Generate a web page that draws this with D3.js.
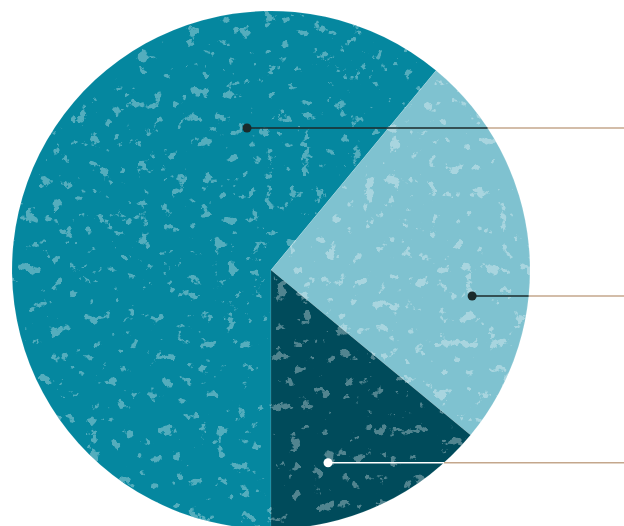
<!DOCTYPE html>
<html>
<head>
<meta charset="utf-8">
<script src="https://cdn.jsdelivr.net/npm/d3@7/dist/d3.min.js"></script>
<style>
  html, body { margin: 0; padding: 0; background: #ffffff; }
  svg { display: block; }
</style>
</head>
<body>
<svg id="chart" width="624" height="526"></svg>
<script>
// Shares of the whole, drawn clockwise starting at six o'clock
const categories = ["A", "B", "C"];
const values = [61, 25, 14];
const colors = ["#05879f", "#7fc2d0", "#004b5b"];
const dotColors = ["#1b2a2b", "#1b2a2b", "#ffffff"];

const width = 624, height = 526;
const cx = 271, cy = 270, radius = 259;

const svg = d3.select("#chart");
const defs = svg.append("defs");

// Grainy light speckle texture
const filter = defs.append("filter")
  .attr("id", "speckle")
  .attr("filterUnits", "userSpaceOnUse")
  .attr("x", 0).attr("y", 0).attr("width", width).attr("height", height);
filter.append("feTurbulence")
  .attr("type", "fractalNoise")
  .attr("baseFrequency", 0.08)
  .attr("numOctaves", 5)
  .attr("seed", 11)
  .attr("result", "noise");
filter.append("feColorMatrix")
  .attr("in", "noise")
  .attr("type", "matrix")
  .attr("values", "0 0 0 0 1  0 0 0 0 1  0 0 0 0 1  20 0 0 0 -13.1")
  .attr("result", "spots");
const ct = filter.append("feComponentTransfer").attr("in", "spots");
ct.append("feFuncA").attr("type", "linear").attr("slope", 0.32).attr("intercept", 0);

defs.append("clipPath").attr("id", "disc")
  .append("circle").attr("cx", cx).attr("cy", cy).attr("r", radius);

const pie = d3.pie()
  .sort(null)
  .startAngle(Math.PI)
  .endAngle(3 * Math.PI)
  .value(d => d);
const arcs = pie(values);

const arc = d3.arc().innerRadius(0).outerRadius(radius);

const g = svg.append("g").attr("transform", `translate(${cx},${cy})`);
g.selectAll("path.slice")
  .data(arcs)
  .join("path")
  .attr("class", "slice")
  .attr("d", arc)
  .attr("fill", (d, i) => colors[i])
  .attr("stroke", "rgba(255,255,255,0.12)")
  .attr("stroke-width", 0.8);

svg.append("g")
  .attr("clip-path", "url(#disc)")
  .append("rect")
  .attr("x", 0).attr("y", 0)
  .attr("width", width).attr("height", height)
  .attr("fill", "#fff")
  .attr("filter", "url(#speckle)");

// Callout anchors: position inside each slice (fraction of its sweep, fraction of radius)
const anchorSweep = [0.776, 0.642, 0.673];
const anchorDepth = [0.556, 0.783, 0.776];

const anchors = arcs.map((d, i) => {
  const a = d.startAngle + anchorSweep[i] * (d.endAngle - d.startAngle);
  const r = anchorDepth[i] * radius;
  return { x: cx + r * Math.sin(a), y: cy - r * Math.cos(a), i };
});

const leaders = svg.append("g");
anchors.forEach(p => {
  const dy = p.y - cy;
  const edgeX = cx + Math.sqrt(Math.max(0, radius * radius - dy * dy));
  leaders.append("line")
    .attr("x1", edgeX).attr("x2", width)
    .attr("y1", p.y).attr("y2", p.y)
    .attr("stroke", "#c4a78c").attr("stroke-width", 1.5);
  leaders.append("line")
    .attr("x1", p.x).attr("x2", edgeX)
    .attr("y1", p.y).attr("y2", p.y)
    .attr("stroke", dotColors[p.i]).attr("stroke-width", 1.5);
  leaders.append("circle")
    .attr("cx", p.x).attr("cy", p.y).attr("r", 4.5)
    .attr("fill", dotColors[p.i]);
});
</script>
</body>
</html>
